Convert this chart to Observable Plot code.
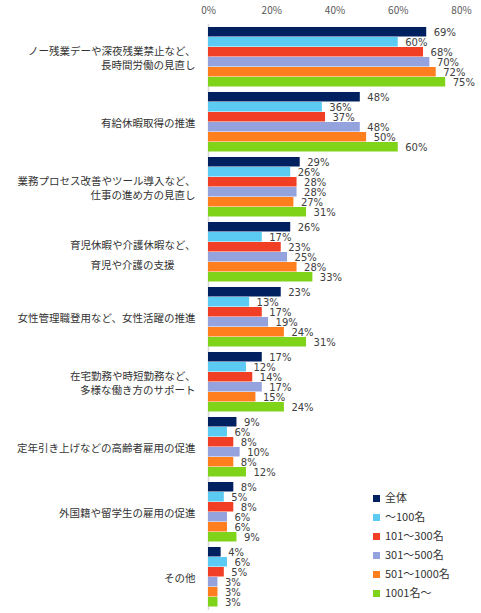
<!DOCTYPE html>
<html>
<head>
<meta charset="utf-8">
<script src="https://cdn.jsdelivr.net/npm/d3@7"></script>
<script src="https://cdn.jsdelivr.net/npm/@observablehq/plot@0.6"></script>
<style>
  body { margin: 0; background: #fff; }
  #wrap { position: relative; width: 481px; height: 613px; }
  #legend {
    position: absolute; left: 373px; top: 489px;
    font: 11px "Noto Sans CJK JP", sans-serif; color: #333;
  }
  #legend div { height: 19px; line-height: 16px; white-space: nowrap; }
  #legend span {
    display: inline-block; width: 7px; height: 7px; margin-right: 5px; vertical-align: 0px;
  }
</style>
</head>
<body>
<div id="wrap">
  <div id="chart"></div>
  <div id="legend"></div>
</div>
<script>
(function () {
  'use strict';

  /* ---- data ---- */
  const categories = [
    'ノー残業デーや深夜残業禁止など、\n長時間労働の見直し',
    '有給休暇取得の推進',
    '業務プロセス改善やツール導入など、\n仕事の進め方の見直し',
    '育児休暇や介護休暇など、\n育児や介護の支援　　',
    '女性管理職登用など、女性活躍の推進',
    '在宅勤務や時短勤務など、\n多様な働き方のサポート',
    '定年引き上げなどの高齢者雇用の促進',
    '外国籍や留学生の雇用の促進',
    'その他'
  ];
  const series = ['全体', '～100名', '101～300名', '301～500名', '501～1000名', '1001名～'];
  const colors = ['#002060', '#5bcbf3', '#f03f24', '#94a3de', '#ff7f1f', '#7fd41a'];

  const allValues   = [69, 48, 29, 26, 23, 17, 9, 8, 4];
  const upTo100     = [60, 36, 26, 17, 13, 12, 6, 5, 6];
  const from101     = [68, 37, 28, 23, 17, 14, 8, 8, 5];
  const from301     = [70, 48, 28, 25, 19, 17, 10, 6, 3];
  const from501     = [72, 50, 27, 28, 24, 15, 8, 6, 3];
  const from1001    = [75, 60, 31, 33, 31, 24, 12, 9, 3];
  const xTicks = [0, 20, 40, 60, 80];

  const seriesValues = [allValues, upTo100, from101, from301, from501, from1001];
  const rows = [];
  categories.forEach((c, i) => {
    series.forEach((s, j) => rows.push({ cat: c, series: s, value: seriesValues[j][i] }));
  });

  const font = '"Noto Sans CJK JP", sans-serif';
  const numFont = '"DejaVu Sans", sans-serif';
  const wideGap = categories[3];

  const chart = Plot.plot({
    width: 481,
    height: 613,
    marginLeft: 208,
    marginRight: 20,
    marginTop: 24,
    marginBottom: 2,
    style: { background: 'transparent', fontFamily: font, color: '#595959' },
    x: {
      domain: [0, 80], axis: 'top', ticks: xTicks, tickSize: 0, tickPadding: 14,
      tickFormat: d => d + '%', label: null, fontSize: 10, fontFamily: numFont
    },
    fy: { domain: categories, axis: null, padding: 0.075 },
    y: { domain: series, axis: null, padding: 0 },
    color: { domain: series, range: colors },
    marks: [
      Plot.ruleX([0], { stroke: '#d9d9d9', strokeWidth: 1.5, insetTop: -3, insetBottom: -3 }),
      Plot.barX(rows, { fy: 'cat', y: 'series', x: 'value', fill: 'series', insetBottom: 0.5 }),
      Plot.text(rows, {
        fy: 'cat', y: 'series', x: 'value', text: d => d.value + '%',
        dx: 7, textAnchor: 'start', fontSize: 10, fontFamily: numFont, fill: '#404040'
      }),
      Plot.text(categories.filter(c => c !== wideGap), {
        fy: d => d, text: d => d, frameAnchor: 'left', dx: -13, textAnchor: 'end',
        fontSize: 10.5, lineHeight: 1.35, fill: '#333'
      }),
      Plot.text([wideGap], {
        fy: d => d, text: d => d, frameAnchor: 'left', dx: -13, textAnchor: 'end',
        fontSize: 10.5, lineHeight: 1.9, fill: '#333'
      })
    ]
  });

  document.getElementById('chart').appendChild(chart);

  /* ---- legend ---- */
  const legend = document.getElementById('legend');
  series.forEach((s, i) => {
    const row = document.createElement('div');
    row.innerHTML = `<span style="background:${colors[i]}"></span>${s}`;
    legend.appendChild(row);
  });
})();
</script>
</body>
</html>
